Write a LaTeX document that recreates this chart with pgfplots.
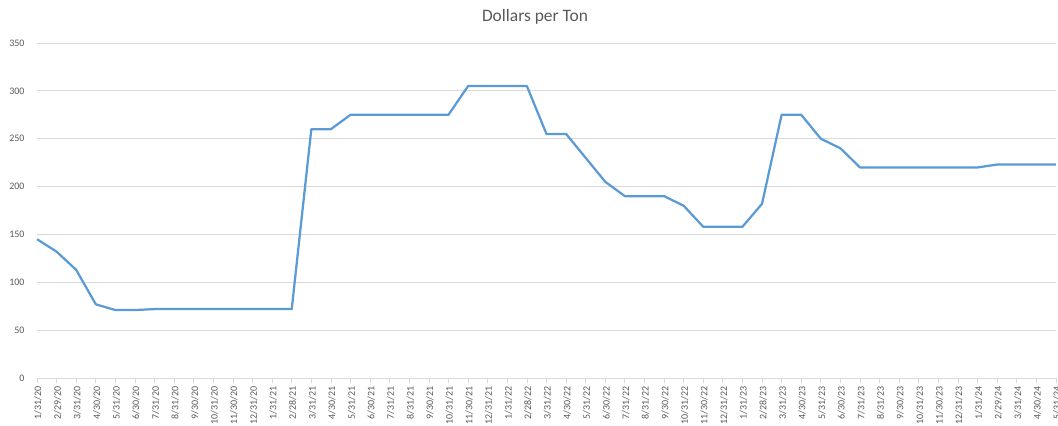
\documentclass[border=0pt]{standalone}
\usepackage{fontspec}
\setmainfont{Carlito}
\usepackage{pgfplots}
\pgfplotsset{compat=1.18}
\definecolor{lineblue}{HTML}{5B9BD5}
\definecolor{gridgray}{HTML}{D9D9D9}
\definecolor{textgray}{HTML}{595959}

\begin{document}
\begin{tikzpicture}
% the reference is cut off at the bottom and right edge
\useasboundingbox (-37bp,-48bp) rectangle (1021bp,378bp);
\begin{axis}[
    scale only axis,
    width=1019bp, height=335bp,
    xmin=0, xmax=52,
    ymin=0, ymax=350,
    ytick={0,50,...,350},
    xtick={0,...,52},
    xticklabels={1/31/20,2/29/20,3/31/20,4/30/20,5/31/20,6/30/20,7/31/20,8/31/20,9/30/20,10/31/20,11/30/20,12/31/20,
        1/31/21,2/28/21,3/31/21,4/30/21,5/31/21,6/30/21,7/31/21,8/31/21,9/30/21,10/31/21,11/30/21,12/31/21,
        1/31/22,2/28/22,3/31/22,4/30/22,5/31/22,6/30/22,7/31/22,8/31/22,9/30/22,10/31/22,11/30/22,12/31/22,
        1/31/23,2/28/23,3/31/23,4/30/23,5/31/23,6/30/23,7/31/23,8/31/23,9/30/23,10/31/23,11/30/23,12/31/23,
        1/31/24,2/29/24,3/31/24,4/30/24,5/31/24},
    axis x line*=bottom,
    axis y line*=left,
    y axis line style={draw=none},
    x axis line style={gridgray, line width=0.75pt, -},
    ymajorgrids,
    grid style={gridgray, line width=0.75pt},
    major y tick style={draw=none},
    xtick style={gridgray, line width=0.75pt},
    xtick align=outside,
    major tick length=5bp,
    tick label style={font=\fontsize{10}{11}\selectfont, text=textgray},
    xticklabel style={rotate=90, anchor=east, xshift=0bp, yshift=-1bp},
    yticklabel style={xshift=-9bp},
    /pgf/number format/assume math mode=true,
    clip=false,
]
\addplot[lineblue, line width=2.25bp, line join=round] coordinates {
    (0,145) (1,132) (2,113) (3,77) (4,71) (5,71) (6,72) (7,72) (8,72) (9,72)
    (10,72) (11,72) (12,72) (13,72) (14,260) (15,260) (16,275) (17,275) (18,275) (19,275)
    (20,275) (21,275) (22,305) (23,305) (24,305) (25,305) (26,255) (27,255) (28,230) (29,205)
    (30,190) (31,190) (32,190) (33,180) (34,158) (35,158) (36,158) (37,182) (38,275) (39,275)
    (40,250) (41,240) (42,220) (43,220) (44,220) (45,220) (46,220) (47,220) (48,220) (49,223)
    (50,223) (51,223) (52,223)
};
\node[anchor=base, font=\fontsize{17.5}{19}\selectfont, text=textgray]
    at ([xshift=498bp, yshift=21bp]rel axis cs:0,1) {Dollars per Ton};
\end{axis}
\end{tikzpicture}
\end{document}
